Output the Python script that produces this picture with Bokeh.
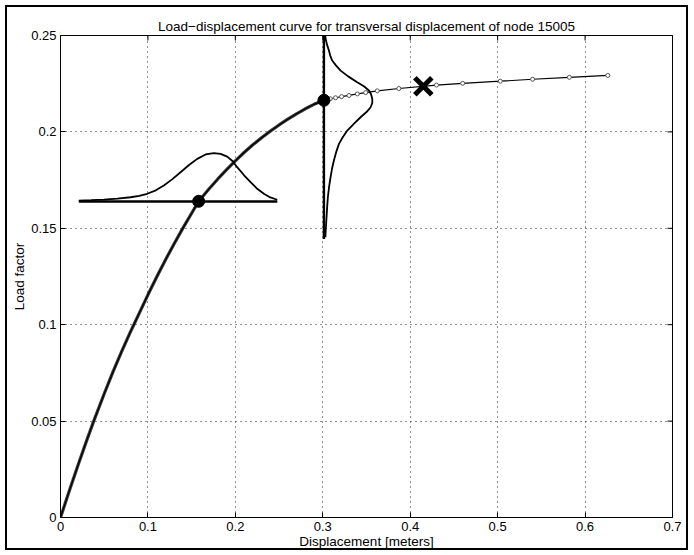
import math
from bokeh.plotting import figure
from bokeh.models import FixedTicker, CustomJSTickFormatter, Range1d, InlineStyleSheet
from bokeh.embed import file_html
from bokeh.resources import INLINE

# Main load-displacement path (displacement [m], load factor)
disp = [0.000, 0.010, 0.020, 0.030, 0.038, 0.050, 0.060, 0.070, 0.080, 0.084, 0.090, 0.100,
        0.110, 0.120, 0.130, 0.140, 0.150, 0.158, 0.170, 0.180, 0.190, 0.200, 0.210, 0.220,
        0.230, 0.240, 0.250, 0.260, 0.270, 0.280, 0.290, 0.3013,
        0.3085, 0.3146, 0.3215, 0.330, 0.3395, 0.349, 0.3624, 0.387, 0.430, 0.460, 0.503,
        0.540, 0.582, 0.626]
load = [0.000, 0.0137, 0.0271, 0.0400, 0.0500, 0.0642, 0.0755, 0.0862, 0.0963, 0.1001, 0.1059, 0.1155,
        0.1247, 0.1336, 0.1420, 0.1501, 0.1578, 0.1640, 0.1705, 0.1756, 0.1804, 0.1850, 0.1893, 0.1933,
        0.1970, 0.2004, 0.2036, 0.2066, 0.2094, 0.2120, 0.2143, 0.2164,
        0.2172, 0.2177, 0.2183, 0.2189, 0.2197, 0.2204, 0.2213, 0.2225, 0.2243, 0.2252, 0.2263,
        0.2273, 0.2283, 0.2293]
DENSE_END = 31  # index of the second highlighted point

# Distribution of displacement at load 0.164 (horizontal density)
hg_x = [0.0209, 0.035, 0.0496, 0.065, 0.0801, 0.090, 0.0992, 0.109, 0.1182, 0.128, 0.1373, 0.147,
        0.1564, 0.166, 0.1754, 0.183, 0.1907, 0.197, 0.2021, 0.210, 0.2174, 0.225, 0.2326, 0.240, 0.2479]
hg_y = [0.1644, 0.1646, 0.1649, 0.1654, 0.1661, 0.1668, 0.1679, 0.1697, 0.1722, 0.1755, 0.1791, 0.1828,
        0.1860, 0.1883, 0.1890, 0.1886, 0.1872, 0.1848, 0.1817, 0.1775, 0.1739, 0.1705, 0.1679, 0.1660, 0.1648]
hbase_x = [0.021, 0.248]
hbase_y = [0.1639, 0.1639]

# Distribution of load at displacement 0.30 (vertical density)
vg_y = [0.1454, 0.1500, 0.1558, 0.1610, 0.1661, 0.1715, 0.1765, 0.1810, 0.1852, 0.1895, 0.1938,
        0.1972, 0.2007, 0.2042, 0.2076, 0.2103, 0.2128, 0.2150, 0.2172, 0.2195, 0.2215, 0.2237,
        0.2258, 0.2288, 0.2318, 0.2345, 0.2370, 0.2396, 0.2422, 0.2450, 0.2483, 0.2520]
vg_x = [0.3030, 0.3035, 0.3043, 0.3050, 0.3058, 0.3072, 0.3089, 0.3106, 0.3127, 0.3153, 0.3185,
        0.3228, 0.3280, 0.3355, 0.3432, 0.3500, 0.3547, 0.3566, 0.3566, 0.3552, 0.3528, 0.3470,
        0.3394, 0.3290, 0.3204, 0.3150, 0.3108, 0.3085, 0.3070, 0.3050, 0.3032, 0.3025]
vbase_x = [0.3013, 0.3013]
vbase_y = [0.1445, 0.25]

dots_x = [0.158, 0.3013]
dots_y = [0.1640, 0.2164]
cross_x = [0.415]
cross_y = [0.2237]

xticks = [0, 0.1, 0.2, 0.3, 0.4, 0.5, 0.6, 0.7]
yticks = [0, 0.05, 0.1, 0.15, 0.2, 0.25]

FONT = "Liberation Sans"

# figure frame drawn inside the page, as in the original export
frame_css = InlineStyleSheet(css="""
:host { position: relative; }
:host::after {
  content: ""; position: absolute; left: 5px; top: 5px; right: 6px; bottom: 5px;
  border: 2px solid black; z-index: 1000; pointer-events: none;
}
""")

p = figure(width=694, height=555, output_backend="svg", toolbar_location=None,
           x_range=Range1d(xticks[0], xticks[-1]), y_range=Range1d(yticks[0], yticks[-1]),
           min_border_left=60, min_border_right=22, min_border_top=35, min_border_bottom=38,
           background_fill_color="white", border_fill_color="white",
           stylesheets=[frame_css])

p.title.text = "Load\u2212displacement curve for transversal displacement of node 15005"
p.title.align = "center"
p.title.text_font = FONT
p.title.text_font_size = "13.5px"
p.title.text_font_style = "normal"
p.title.text_color = "black"
p.title.standoff = 4

p.outline_line_color = "black"
p.outline_line_width = 1

fmt = CustomJSTickFormatter(code="return tick.toString()")
for ax, ticks in ((p.xaxis[0], xticks), (p.yaxis[0], yticks)):
    ax.ticker = FixedTicker(ticks=ticks)
    ax.formatter = fmt
    ax.major_tick_in = 5
    ax.major_tick_out = 0
    ax.minor_tick_line_color = None
    ax.axis_line_color = "black"
    ax.major_tick_line_color = "black"
    ax.major_label_text_font = FONT
    ax.major_label_text_font_size = "13px"
    ax.major_label_text_color = "black"
    ax.axis_label_text_font = FONT
    ax.axis_label_text_font_size = "13.5px"
    ax.axis_label_text_font_style = "normal"
    ax.axis_label_text_color = "black"

p.xaxis.major_label_standoff = 4
p.xaxis.axis_label_standoff = 0
p.yaxis.major_label_standoff = 4
p.yaxis.axis_label_standoff = 1

p.xaxis.axis_label = "Displacement [meters]"
p.yaxis.axis_label = "Load factor"

p.xgrid.ticker = FixedTicker(ticks=xticks)
p.ygrid.ticker = FixedTicker(ticks=yticks)
for g in (p.xgrid[0], p.ygrid[0]):
    g.grid_line_color = "#222222"
    g.grid_line_dash = "1 4"
    g.grid_line_width = 1

# inward tick marks on the top and right edges of the box (half of each dash is clipped)
p.scatter(xticks, [yticks[-1]] * len(xticks), marker="dash", angle=math.pi / 2, size=10,
          line_color="black", line_width=1)
p.scatter([xticks[-1]] * len(yticks), yticks, marker="dash", size=10,
          line_color="black", line_width=1)

# main path
p.line(disp[:DENSE_END + 1], load[:DENSE_END + 1], line_width=3.2, line_color="#3c3c3c")
p.line(disp, load, line_width=1.2, line_color="black")
p.scatter(disp[DENSE_END:], load[DENSE_END:], marker="circle", size=4,
          fill_color="white", line_color="#555555", line_width=1)

# densities
p.line(hbase_x, hbase_y, line_width=2.4, line_color="black")
p.line(hg_x, hg_y, line_width=1.8, line_color="black")
p.line(vbase_x, vbase_y, line_width=2.4, line_color="black")
p.line(vg_x, vg_y, line_width=1.8, line_color="black")

p.scatter(dots_x, dots_y, marker="circle", size=12, fill_color="black", line_color="black")
p.scatter(cross_x, cross_y, marker="x", size=24, line_color="black", line_width=5)

open("out.html", "w").write(file_html(p, INLINE))
